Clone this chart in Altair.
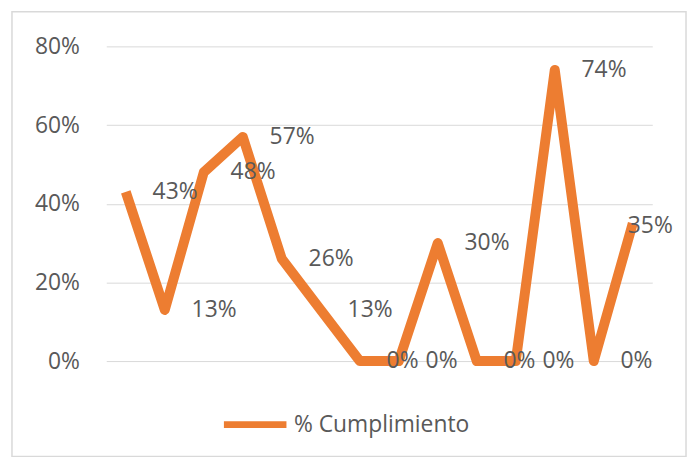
import altair as alt
import pandas as pd

categories = [f"P{i}" for i in range(1, 15)]
values = [0.43, 0.13, 0.48, 0.57, 0.26, 0.13, 0.0, 0.0, 0.30, 0.0, 0.0, 0.74, 0.0, 0.35]
series_name = "% Cumplimiento"

df = pd.DataFrame({"cat": categories, "val": values, "serie": [series_name] * len(values)})

ORANGE = "#ED7D31"
GRAY = "#595959"
FONT = "Open Sans"
FS = 23

base = alt.Chart(df)

x = alt.X("cat:N", sort=categories, scale=alt.Scale(type="point", padding=0.5), axis=None)
y = alt.Y("val:Q", scale=alt.Scale(domain=[0, 0.8]),
          axis=alt.Axis(values=[0, 0.2, 0.4, 0.6, 0.8], format=".0%", title=None,
                        ticks=False, domain=False, labelPadding=27, labelFontSize=FS,
                        labelColor=GRAY, labelFont=FONT, gridColor="#d9d9d9", gridWidth=1))

border = base.mark_rect(fill=None, stroke="#d9d9d9", strokeWidth=1.5).encode(
    x=alt.value(-95), x2=alt.value(584), y=alt.value(-35), y2=alt.value(413)
).transform_filter(alt.datum.cat == categories[0])

line = base.mark_line(strokeWidth=10, strokeJoin="round", strokeCap="butt").encode(
    x=x, y=y,
    color=alt.Color("serie:N", scale=alt.Scale(range=[ORANGE]),
                    legend=alt.Legend(title=None, orient="none", legendX=115, legendY=346,
                                      symbolType="stroke", symbolSize=3969,
                                      symbolStrokeWidth=7, labelFontSize=FS,
                                      labelFont=FONT, labelColor=GRAY, labelOffset=4,
                                      labelLimit=0))
)

labels = base.mark_text(align="left", baseline="middle", dx=27, fontSize=FS,
                        font=FONT, color=GRAY).encode(
    x=x, y=y, text=alt.Text("val:Q", format=".0%")
).transform_filter(alt.datum.cat != categories[-1])

last_label = base.mark_text(align="left", baseline="middle", dx=-5, dy=3, fontSize=FS,
                            font=FONT, color=GRAY).encode(
    x=x, y=y, text=alt.Text("val:Q", format=".0%")
).transform_filter(alt.datum.cat == categories[-1])

chart = alt.layer(border, line, labels, last_label).properties(
    width=550, height=317,
    padding={"left": 99, "top": 37, "right": 36, "bottom": 100},
    autosize="none",
).configure(background="white").configure_view(stroke=None)

chart.save("out.html", embed_options={"renderer": "svg", "actions": False})
